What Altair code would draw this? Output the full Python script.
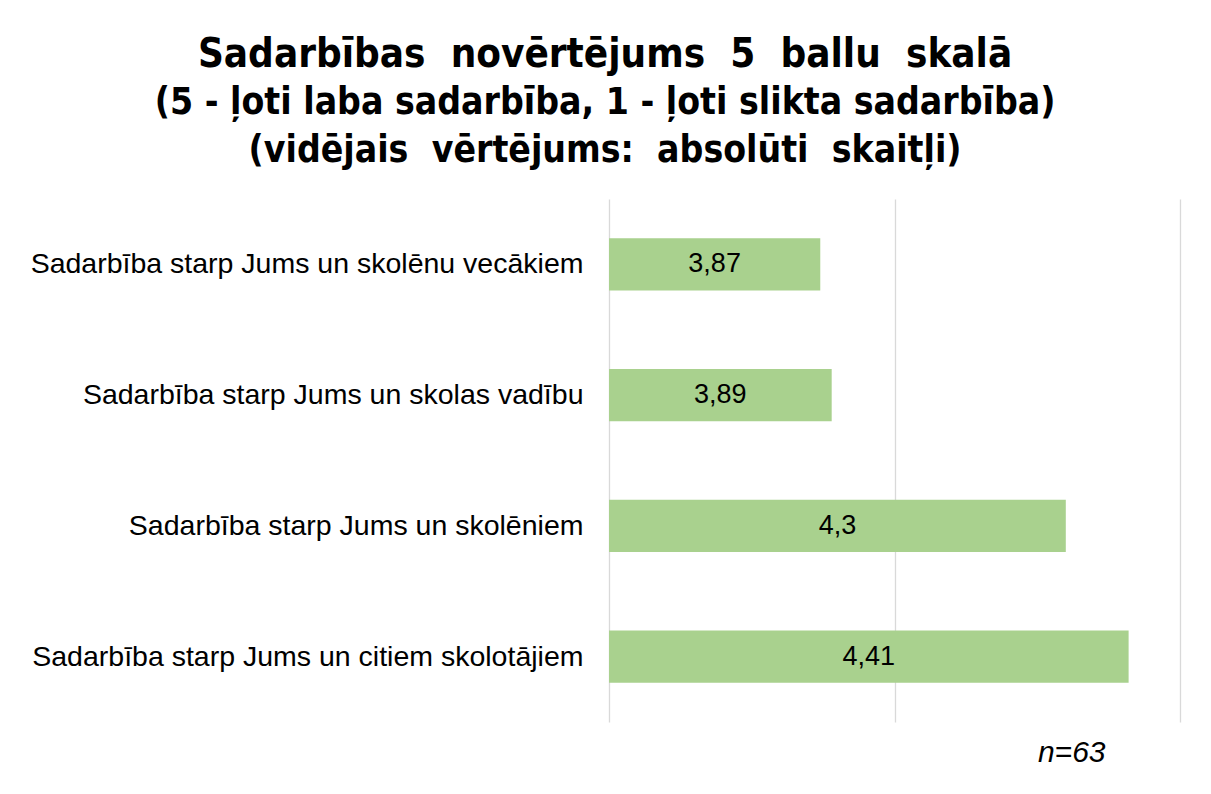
import altair as alt
import pandas as pd

categories = [
    "Sadarbība starp Jums un skolēnu vecākiem",
    "Sadarbība starp Jums un skolas vadību",
    "Sadarbība starp Jums un skolēniem",
    "Sadarbība starp Jums un citiem skolotājiem",
]
values = [3.87, 3.89, 4.3, 4.41]
value_labels = ["3,87", "3,89", "4,3", "4,41"]
axis_min = 3.5
axis_max = 4.5

title_line1 = "Sadarbības novērtējums 5 ballu skalā"
title_line2 = "(5 - ļoti laba sadarbība, 1 - ļoti slikta sadarbība)"
title_line3 = "(vidējais vērtējums: absolūti skaitļi)"
wide_gap = "\u2002\u2009"

df = pd.DataFrame({"cat": categories, "val": values, "lab": value_labels})

y_enc = alt.Y(
    "cat:N",
    sort=categories,
    title=None,
    scale=alt.Scale(paddingInner=0.6, paddingOuter=0.3),
    axis=alt.Axis(
        labelFont="Liberation Sans",
        labelFontSize=28.5,
        labelColor="#000000",
        labelPadding=26,
        labelLimit=700,
        domain=False,
        ticks=False,
        grid=False,
    ),
)

x_enc = alt.X(
    "val:Q",
    scale=alt.Scale(domain=[axis_min, axis_max], nice=False, zero=False),
    title="n=63",
    axis=alt.Axis(
        values=[3.5, 4.0, 4.5],
        labels=False,
        ticks=False,
        domain=False,
        grid=True,
        gridColor="#d9d9d9",
        gridWidth=1.3,
        titleFont="Liberation Sans",
        titleFontSize=30,
        titleFontStyle="italic",
        titleFontWeight="normal",
        titleColor="#000000",
        titleAlign="right",
        titleAnchor="end",
        titleBaseline="middle",
        titleX=496,
        titleY=30,
    ),
)

bars = alt.Chart(df).mark_bar(color="#a9d18e").encode(
    y=y_enc, x=x_enc, x2=alt.datum(axis_min)
)

texts = alt.Chart(df).mark_text(
    font="Liberation Sans", fontSize=27, color="#000000", baseline="middle", align="center"
).transform_calculate(mid=f"({axis_min} + datum.val) / 2").encode(
    y=alt.Y("cat:N", sort=categories),
    x=alt.X("mid:Q"),
    text="lab:N",
)

chart = (
    alt.layer(bars, texts)
    .properties(
        width=571,
        height=523,
        autosize=alt.AutoSizeParams(type="none"),
        padding={"left": 601, "top": 191, "right": 20, "bottom": 70},
        title=alt.TitleParams(
            text=title_line1.replace(" ", wide_gap),
            subtitle=[title_line2, title_line3.replace(" ", wide_gap)],
            font="DejaVu Sans Condensed, Liberation Sans, sans-serif",
            fontSize=40,
            fontWeight="bold",
            color="#000000",
            subtitleFont="DejaVu Sans Condensed, Liberation Sans, sans-serif",
            subtitleFontSize=37,
            subtitleFontWeight="bold",
            subtitleColor="#000000",
            subtitleLineHeight=48,
            subtitlePadding=10,
            anchor="middle",
            frame="bounds",
            offset=30,
        ),
    )
    .configure_view(stroke=None)
)

chart.save("out.html", embed_options={"renderer": "svg", "actions": False})
